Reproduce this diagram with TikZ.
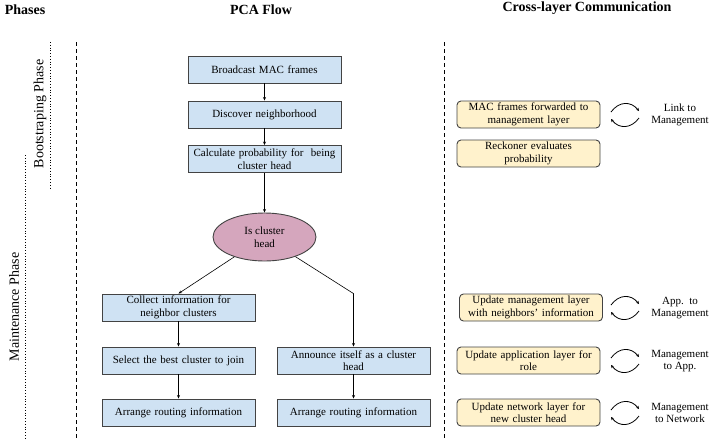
\documentclass[tikz,border=0pt]{standalone}
\usepackage{fontspec}
\setmainfont{Liberation Serif}
\usetikzlibrary{shapes.geometric,arrows.meta}
\definecolor{flowblue}{HTML}{CFE2F3}
\definecolor{crossyellow}{HTML}{FFF2CC}
\definecolor{decisionpink}{HTML}{D5A6BD}
\definecolor{edgegray}{HTML}{434343}
\begin{document}
\begin{tikzpicture}[x=1pt,y=-1pt,
    flowbox/.style={draw=edgegray,fill=flowblue,line width=0.9pt,minimum width=153pt,minimum height=27pt,text width=148pt,align=center,inner sep=1pt,font=\fontsize{11}{12.5}\selectfont},
    crossbox/.style={draw=edgegray,fill=crossyellow,line width=0.9pt,rounded corners=4pt,minimum width=143pt,minimum height=27pt,text width=138pt,align=center,inner sep=1pt,font=\fontsize{11}{12.5}\selectfont},
    decision/.style={ellipse,draw=edgegray,fill=decisionpink,line width=0.9pt,minimum width=103pt,minimum height=48pt,align=center,inner sep=1pt,font=\fontsize{11}{12.5}\selectfont},
    heading/.style={font=\fontsize{14}{16}\selectfont\bfseries},
    phaselabel/.style={rotate=90,font=\fontsize{14}{16}\selectfont},
    layerlabel/.style={align=center,font=\fontsize{11}{12.5}\selectfont},
    flowarrow/.style={-{Stealth[length=3.5pt,width=3pt]},line width=0.6pt},
    cyclearrow/.style={-{Stealth[length=3pt,width=3pt]},line width=0.8pt}]
    \useasboundingbox (0,0) rectangle (716,440);

    % headings
    \node [heading] (phases) at (25,10) {Phases};
    \node [heading] (pcaflow) at (261,10) {PCA Flow};
    \node [heading] (crosslayer) at (587,8) {Cross-layer Communication};

    % separators
    \draw [dash pattern=on 4pt off 3pt,line width=0.9pt] (76,42) -- (76,440);
    \draw [dash pattern=on 4pt off 3pt,line width=0.9pt] (444,42) -- (444,440);
    \draw [dash pattern=on 0.8pt off 2pt,line width=0.8pt] (50,42) -- (50,188);
    \draw [dash pattern=on 0.8pt off 2pt,line width=0.8pt] (25,155) -- (25,438);
    \node [phaselabel] (bootphase) at (40,114) {Bootstraping Phase};
    \node [phaselabel] (maintphase) at (14,307) {Maintenance Phase};

    % PCA flow
    \node [flowbox] (broadcast) at (264.5,69.5) {Broadcast MAC frames};
    \node [flowbox] (discover) at (264.5,114.5) {Discover neighborhood};
    \node [flowbox] (calculate) at (264.5,159) {Calculate probability for\ \ being\\cluster head};
    \node [decision] (ischead) at (264.5,237) {Is cluster\\head};
    \node [flowbox] (collect) at (178.5,307.5) {Collect information for\\neighbor clusters};
    \node [flowbox] (select) at (178.5,360.5) {Select the best cluster to join};
    \node [flowbox] (arrangeleft) at (178.5,412.5) {Arrange routing information};
    \node [flowbox] (announce) at (353.5,360.5) {Announce itself as a cluster\\head};
    \node [flowbox] (arrangeright) at (353.5,412.5) {Arrange routing information};
    \coordinate (turn) at (announce.north |- collect.north);

    \draw [flowarrow] (broadcast) -- (discover);
    \draw [flowarrow] (discover) -- (calculate);
    \draw [flowarrow] (calculate) -- (ischead);
    \draw [flowarrow] (ischead) -- (collect.north);
    \draw [flowarrow] (ischead) -- (turn) -- (announce.north);
    \draw [flowarrow] (collect) -- (select);
    \draw [flowarrow] (select) -- (arrangeleft);
    \draw [flowarrow] (announce) -- (arrangeright);

    % cross-layer communication
    \node [crossbox] (macforward) at (528.5,114.5) {MAC frames forwarded to\\management layer};
    \node [crossbox] (reckoner) at (528.5,153.5) {Reckoner evaluates\\probability};
    \node [crossbox] (updatemgmt) at (531,307.5) {Update management layer\\with neighbors' information};
    \node [crossbox] (updateapp) at (528.5,360.5) {Update application layer for\\role};
    \node [crossbox] (updatenet) at (528.5,412.5) {Update network layer for\\new cluster head};

    \node [layerlabel] (linkmgmt) at (680,115) {Link to\\Management};
    \node [layerlabel] (appmgmt) at (680,308) {App.\ \ to\\Management};
    \node [layerlabel] (mgmtapp) at (680,361) {Management\\to App.};
    \node [layerlabel] (mgmtnet) at (680,413) {Management\\to Network};

    \foreach \cy in {115,308,361,413} {
        \draw [cyclearrow] (611,\cy-3) .. controls (619,\cy-14) and (631,\cy-14) .. (639,\cy-4);
        \draw [cyclearrow] (639,\cy+3) .. controls (631,\cy+14) and (619,\cy+14) .. (611,\cy+4);
    }
\end{tikzpicture}
\end{document}
